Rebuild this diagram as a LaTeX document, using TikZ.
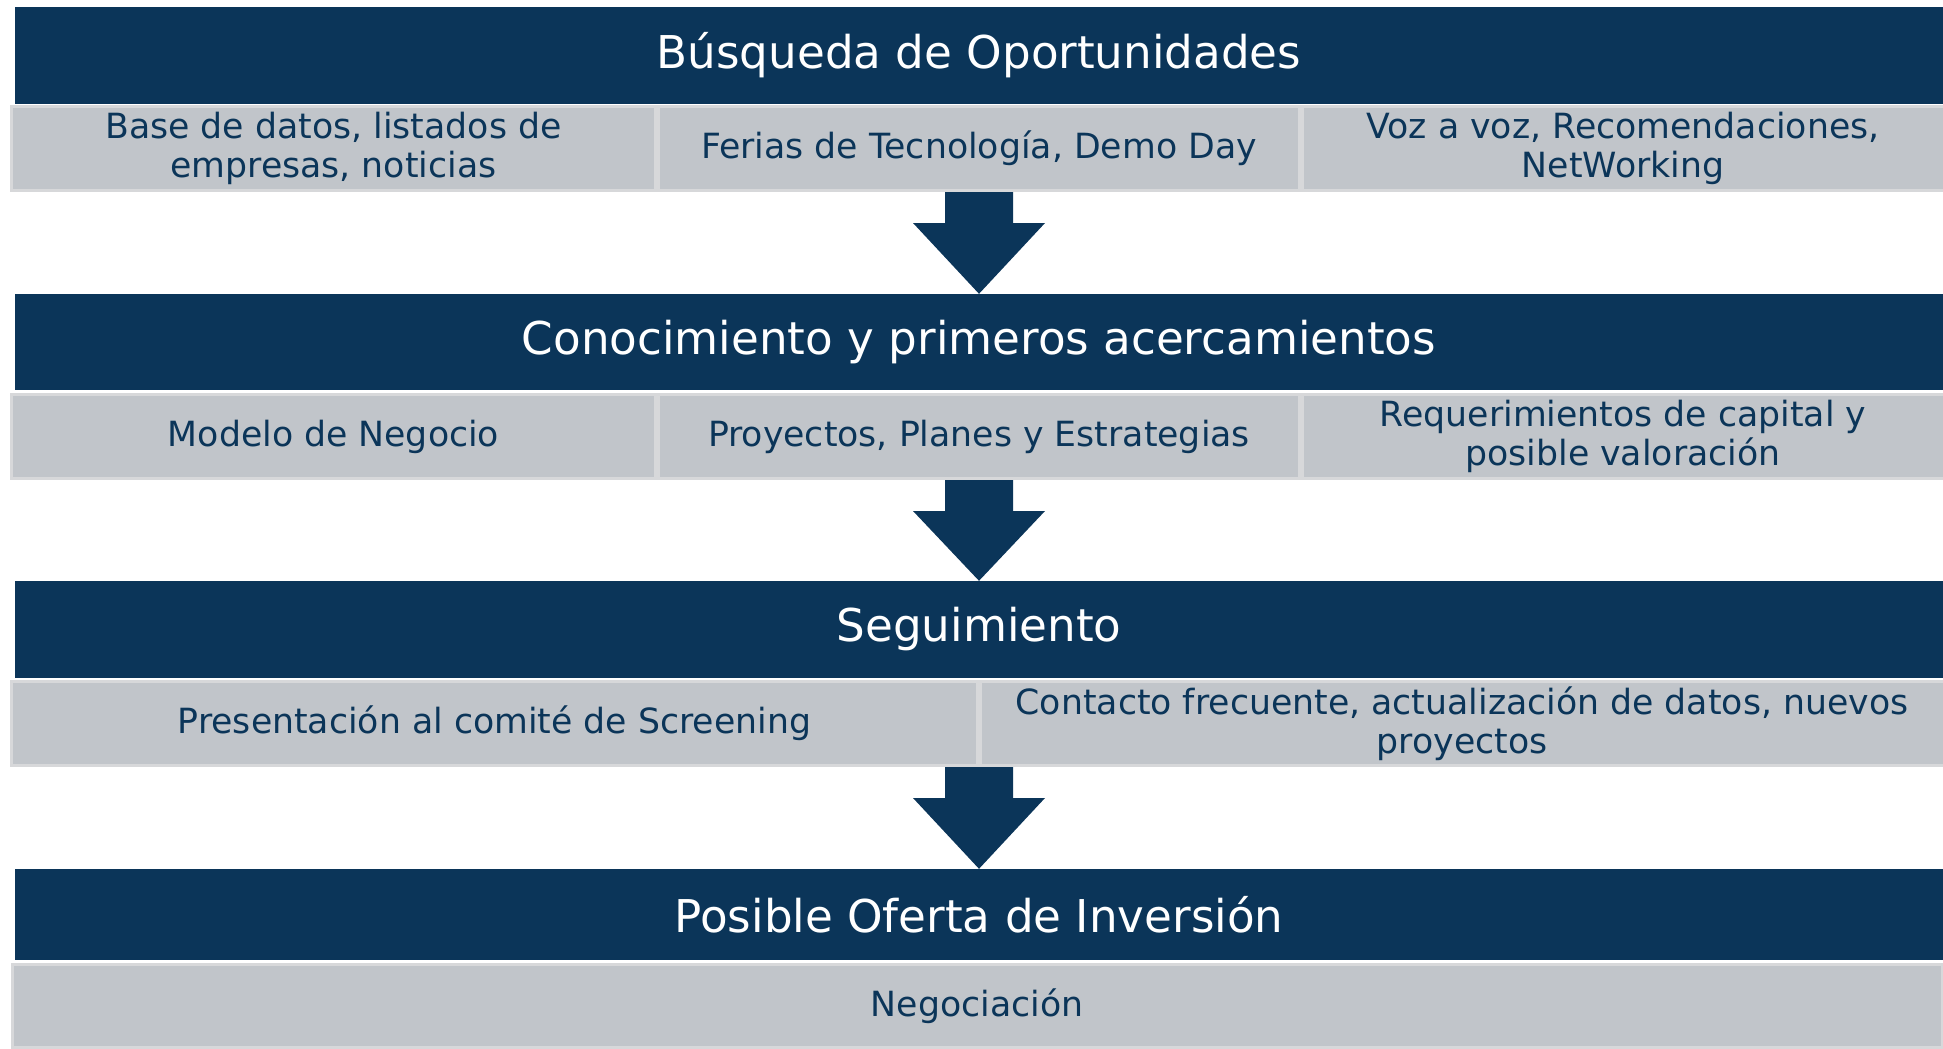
\documentclass[tikz,border=0pt]{standalone}
\usepackage{fontspec}
\setmainfont{DejaVu Sans}
\usetikzlibrary{calc}
\definecolor{navy}{HTML}{0B3559}
\definecolor{cellgray}{HTML}{C1C5CA}
\definecolor{cellline}{HTML}{D7D8DA}
\begin{document}
\begin{tikzpicture}[x=1pt,y=-1pt,
  hdr/.style={fill=navy, draw=none, text=white, inner sep=0pt,
    font=\fontsize{45.2}{50}\selectfont, minimum width=1928pt},
  cell/.style={fill=cellgray, draw=cellline, line width=3pt, text=navy,
    inner sep=0pt, align=center, minimum height=84pt,
    font=\fontsize{34.7}{38.5}\selectfont},
  blockarrow/.style={fill=navy, draw=none}]
\useasboundingbox (0,0) rectangle (1943,1049);
% headers
\node[hdr, minimum height=97pt] (h1) at (979,55.5) {Búsqueda de Oportunidades};
\node[hdr, minimum height=96pt] (h2) at (979,342) {Conocimiento y primeros acercamientos};
\node[hdr, minimum height=97pt] (h3) at (979,629.5) {Seguimiento};
\node[hdr, minimum height=91pt] (h4) at (979,914.5) {Posible Oferta de Inversión};
% row 1
\node[cell, minimum width=644pt] (c11) at (333.5,148.5) {Base de datos, listados de\\empresas, noticias};
\node[cell, minimum width=641pt] (c12) at (979,148.5) {Ferias de Tecnología, Demo Day};
\node[cell, minimum width=642pt] (c13) at (1623,148.5) {Voz a voz, Recomendaciones,\\NetWorking};
% row 2
\node[cell, minimum width=644pt] (c21) at (333.5,436.5) {Modelo de Negocio};
\node[cell, minimum width=641pt] (c22) at (979,436.5) {Proyectos, Planes y Estrategias};
\node[cell, minimum width=642pt] (c23) at (1623,436.5) {Requerimientos de capital y\\posible valoración};
% row 3
\node[cell, minimum width=966pt] (c31) at (494.5,723.5) {Presentación al comité de Screening};
\node[cell, minimum width=964pt] (c32) at (1462,723.5) {Contacto frecuente, actualización de datos, nuevos\\proyectos};
% row 4
\node[cell, minimum width=1930pt, minimum height=83pt] (c41) at (977,1006) {Negociación};
% block arrows (canvas pt: positive y is up)
\foreach \g/\h/\n in {c12/h2/1, c22/h3/2, c31/h4/3}{
  \coordinate (top\n) at (\g.south -| h1.center);
  \coordinate (tip\n) at (\h.north);
  \fill[blockarrow] ($(top\n)+(-34pt,0)$) -- ($(top\n)+(34pt,0)$)
    -- ($(top\n)+(34pt,-31pt)$) -- ($(top\n)+(66pt,-31pt)$)
    -- (tip\n) -- ($(top\n)+(-66pt,-31pt)$) -- ($(top\n)+(-34pt,-31pt)$) -- cycle;
}
\end{tikzpicture}
\end{document}
